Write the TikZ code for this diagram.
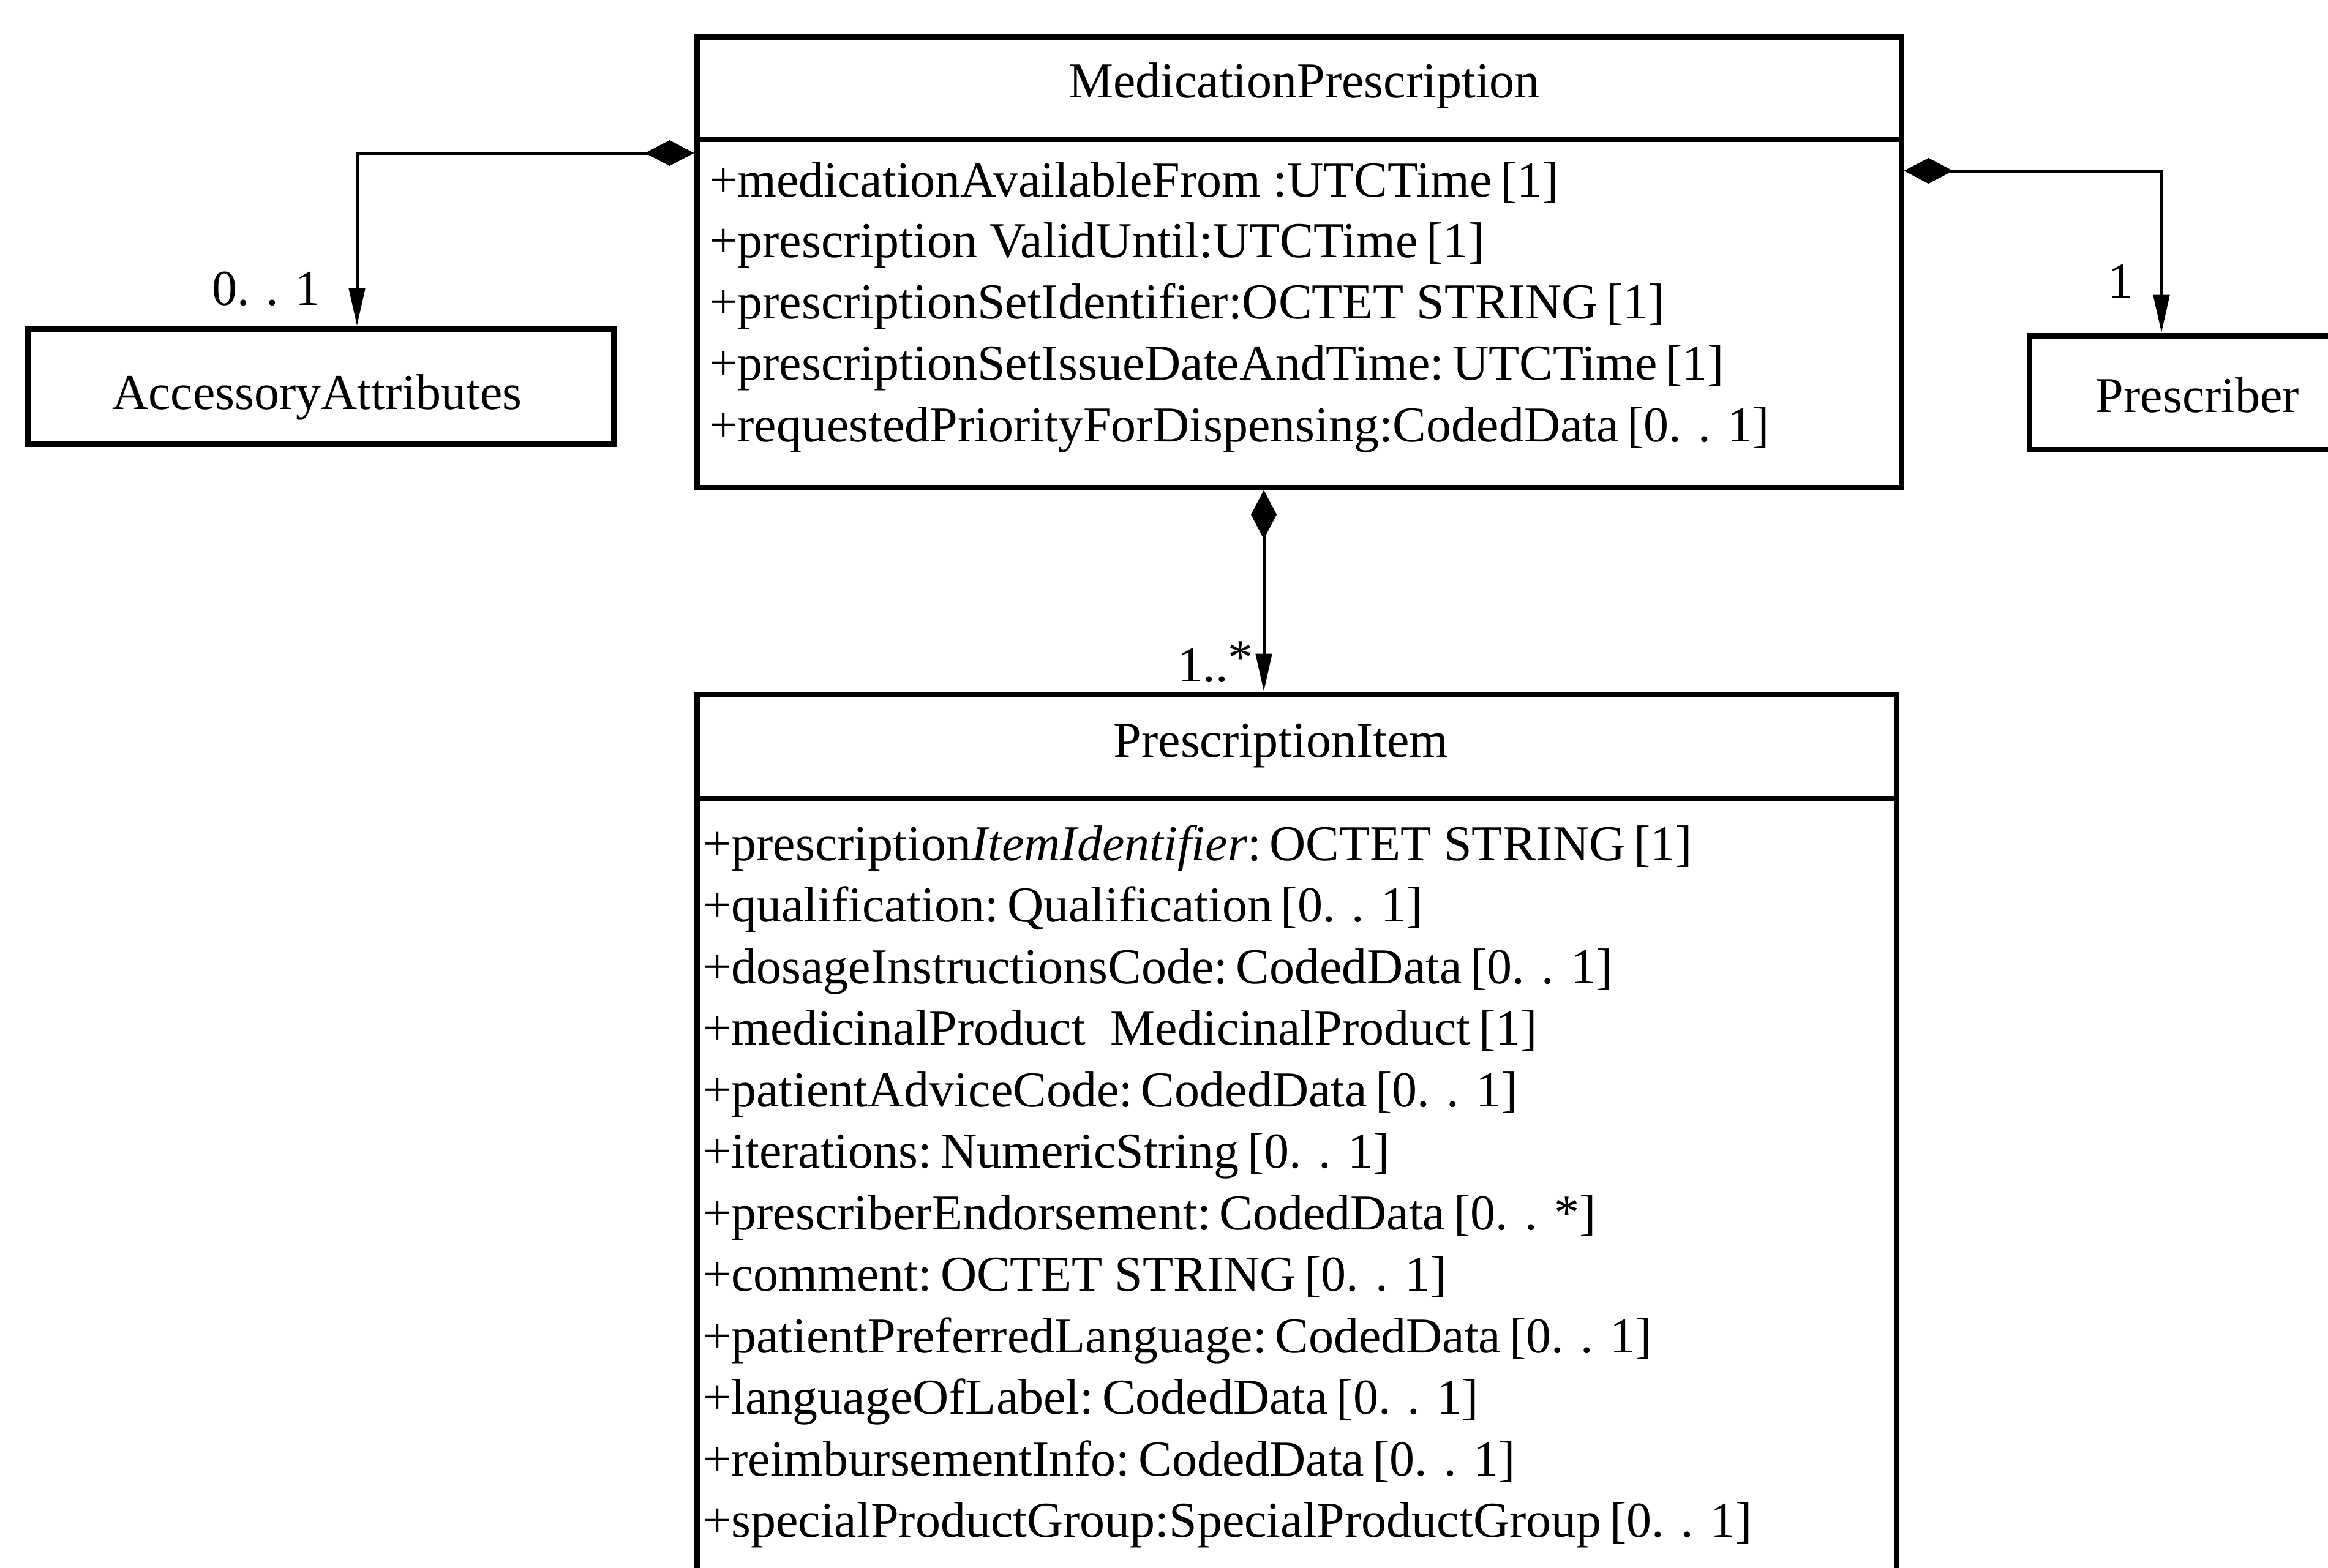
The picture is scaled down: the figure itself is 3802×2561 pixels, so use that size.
\documentclass[tikz,border=0pt]{standalone}
\usepackage{fontspec}
\setmainfont{Liberation Serif}
\usetikzlibrary{arrows.meta}

\begin{document}
\begin{tikzpicture}[x=1pt,y=-1pt,
  every node/.style={font=\fontsize{82}{98}\selectfont, inner sep=0pt},
  classbox/.style={draw, line width=9pt, rectangle},
  divider/.style={line width=7.5pt},
  attr/.style={anchor=base west},
  title/.style={anchor=base},
  mult/.style={anchor=base},
  comp/.style={line width=5pt,
    {Diamond[length=80pt,width=42pt]}-{Triangle[length=62pt,width=26pt]}}
]
\clip (0,0) rectangle (3802,2561);

% class boxes
\node[classbox, minimum width=1967pt, minimum height=735pt] (mp) at (2121.5,428.5) {};
\node[classbox, minimum width=1959pt, minimum height=1566pt] (pi) at (2117.5,1917) {};
\node[classbox, minimum width=957pt, minimum height=188pt] (acc) at (523.5,631) {};
\node[classbox, minimum width=556pt, minimum height=186pt] (pres) at (3592,641) {};

% compartment dividers
\coordinate (mpdiv) at (0,228);
\coordinate (pidiv) at (0,1304);
\draw[divider] (mp.west |- mpdiv) -- (mp.east |- mpdiv);
\draw[divider] (pi.west |- pidiv) -- (pi.east |- pidiv);

% class names
\node[title] (mpname) at (2130,160) {MedicationPrescription};
\node[title] (piname) at (2092,1236) {PrescriptionItem};
\node[title] (accname) at (518,668) {AccessoryAttributes};
\node[title] (presname) at (3589,673) {Prescriber};

% MedicationPrescription attributes
\node[attr] (mpa1) at (1158,321) {+medicationAvailableFrom :UTCTime\,[1]};
\node[attr] (mpa2) at (1158,420) {+prescription ValidUntil:UTCTime\,[1]};
\node[attr] (mpa3) at (1158,520) {+prescriptionSetIdentifier:OCTET STRING\,[1]};
\node[attr] (mpa4) at (1158,620) {+prescriptionSetIssueDateAndTime:\,UTCTime\,[1]};
\node[attr] (mpa5) at (1158,721) {+requestedPriorityForDispensing:CodedData\,[0. . 1]};

% PrescriptionItem attributes
\node[attr] (pia1) at (1148,1405) {+prescription\textit{ItemIdentifier}:\,OCTET STRING\,[1]};
\node[attr] (pia2) at (1148,1505.5) {+qualification:\,Qualification\,[0. . 1]};
\node[attr] (pia3) at (1148,1606) {+dosageInstructionsCode:\,CodedData\,[0. . 1]};
\node[attr] (pia4) at (1148,1706.5) {+medicinalProduct\ \ MedicinalProduct\,[1]};
\node[attr] (pia5) at (1148,1807) {+patientAdviceCode:\,CodedData\,[0. . 1]};
\node[attr] (pia6) at (1148,1907.5) {+iterations:\,NumericString\,[0. . 1]};
\node[attr] (pia7) at (1148,2008) {+prescriberEndorsement:\,CodedData\,[0. . *]};
\node[attr] (pia8) at (1148,2108.5) {+comment:\,OCTET STRING\,[0. . 1]};
\node[attr] (pia9) at (1148,2209) {+patientPreferredLanguage:\,CodedData\,[0. . 1]};
\node[attr] (pia10) at (1148,2309.5) {+languageOfLabel:\,CodedData\,[0. . 1]};
\node[attr] (pia11) at (1148,2410) {+reimbursementInfo:\,CodedData\,[0. . 1]};
\node[attr] (pia12) at (1148,2510.5) {+specialProductGroup:SpecialProductGroup\,[0. . 1]};

% composition connectors
\coordinate (accrow) at (0,250);
\coordinate (presrow) at (0,279);
\coordinate (stem) at (2064,0);
\draw[comp] (mp.west |- accrow) -| ([xshift=59.5pt]acc.north);
\draw[comp] (mp.east |- presrow) -| ([xshift=-62pt]pres.north);
\draw[comp] (mp.south -| stem) -- (pi.north -| stem);

% multiplicities
\node[mult] (maccm) at (435,498) {0. . 1};
\node[mult] (mpresm) at (3463,486) {1};
\node[mult] (mpim) at (1985,1113) {1..\raisebox{12pt}{*}};
\end{tikzpicture}
\end{document}
